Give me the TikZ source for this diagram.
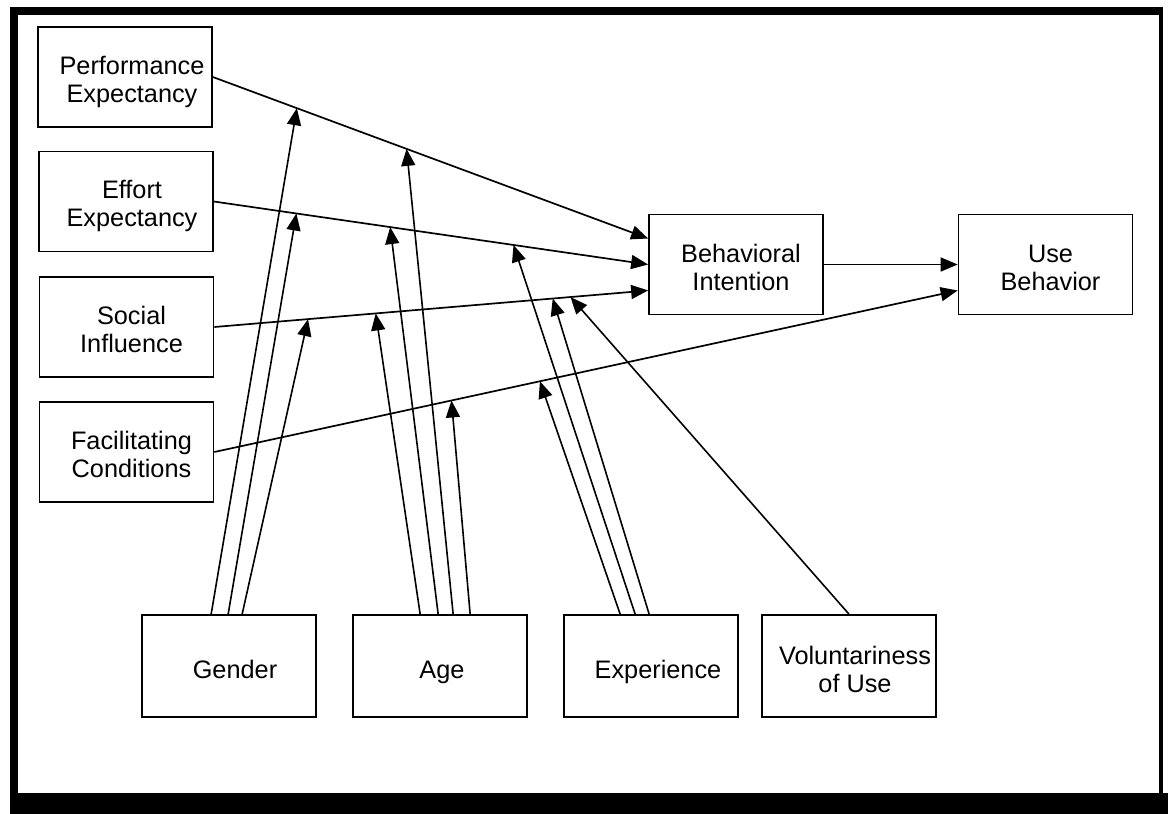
\documentclass[tikz,border=0pt]{standalone}
\usepackage{fontspec}
\setmainfont{Liberation Sans}
\usetikzlibrary{arrows.meta,calc}
\begin{document}
\begin{tikzpicture}[x=1pt,y=-1pt,
  box/.style={draw, line width=1.7pt, minimum width=174pt, minimum height=100pt, inner sep=0pt},
  lbl/.style={font=\fontsize{25.3}{28}\selectfont, align=center, inner sep=0pt, anchor=base},
  arr/.style={line width=1.7pt, -{Triangle[length=17pt,width=14pt]}},
  mod/.style={line width=1.6pt, -{Triangle[length=17pt,width=14pt]}}]
\useasboundingbox (0,0) rectangle (1171,814);
\fill[white] (0,0) rectangle (1171,814);
% frame
\fill[black] (10,7) rectangle (1163,15);
\fill[black] (10,7) rectangle (18,814);
\fill[black] (1159,7) rectangle (1163,800);
\fill[black] (10,793) rectangle (1168,814);
% boxes
\node[box] (PE) at (125,77) {};
\node[box] (EE) at (126,201.5) {};
\node[box] (SI) at (126.5,327) {};
\node[box] (FC) at (126.5,452) {};
\node[box] (BI) at (736,264.5) {};
\node[box] (UB) at (1045.5,264.5) {};
\node[box, minimum height=102pt] (G) at (229,666) {};
\node[box, minimum height=102pt] (A) at (440,666) {};
\node[box, minimum height=102pt] (E) at (651,666) {};
\node[box, minimum height=102pt] (V) at (849,666) {};
% texts (base = baseline of last line)
\node[lbl] (PEt) at ([xshift=7pt,yshift=-25pt]PE.center) {Performance\\Expectancy};
\node[lbl] (EEt) at ([xshift=6pt,yshift=-25pt]EE.center) {Effort\\Expectancy};
\node[lbl] (SIt) at ([xshift=5pt,yshift=-25pt]SI.center) {Social\\Influence};
\node[lbl] (FCt) at ([xshift=5pt,yshift=-25pt]FC.center) {Facilitating\\Conditions};
\node[lbl] (BIt) at ([xshift=5pt,yshift=-25.5pt]BI.center) {Behavioral\\Intention};
\node[lbl] (UBt) at ([xshift=5pt,yshift=-25.5pt]UB.center) {Use\\Behavior};
\node[lbl] (Gt) at ([xshift=6pt,yshift=-12pt]G.center) {Gender};
\node[lbl] (At) at ([xshift=2pt,yshift=-12pt]A.center) {Age};
\node[lbl] (Et) at ([xshift=7pt,yshift=-12pt]E.center) {Experience};
\node[lbl] (Vt) at ([xshift=6pt,yshift=-26.5pt]V.center) {Voluntariness\\of Use};
% main paths
\draw[arr] (PE.east) -- coordinate[pos=0.193] (peG) coordinate[pos=0.445] (peA) ([yshift=26pt]BI.west);
\draw[arr] (EE.east) -- coordinate[pos=0.19] (eeG) coordinate[pos=0.406] (eeA) coordinate[pos=0.69] (eeE) (BI.west);
\draw[arr] (SI.east) -- coordinate[pos=0.216] (siG) coordinate[pos=0.372] (siA) coordinate[pos=0.78] (siE) coordinate[pos=0.821] (siV) ([yshift=-26pt]BI.west);
\draw[arr] (FC.east) -- coordinate[pos=0.319] (fcA) coordinate[pos=0.438] (fcE) ([yshift=-26pt]UB.west);
\draw[arr] (BI.east) -- (UB.west);
% moderators
\draw[mod] ([xshift=70pt]G.north west) -- (peG);
\draw[mod] ([xshift=87pt]G.north west) -- (eeG);
\draw[mod] ([xshift=101pt]G.north west) -- (siG);
\draw[mod] ([xshift=68pt]A.north west) -- (siA);
\draw[mod] ([xshift=86pt]A.north west) -- (eeA);
\draw[mod] ([xshift=101pt]A.north west) -- (peA);
\draw[mod] ([xshift=118pt]A.north west) -- (fcA);
\draw[mod] ([xshift=57pt]E.north west) -- (fcE);
\draw[mod] ([xshift=72pt]E.north west) -- (eeE);
\draw[mod] ([xshift=86pt]E.north west) -- (siE);
\draw[mod] (V.north) -- (siV);
\end{tikzpicture}
\end{document}
